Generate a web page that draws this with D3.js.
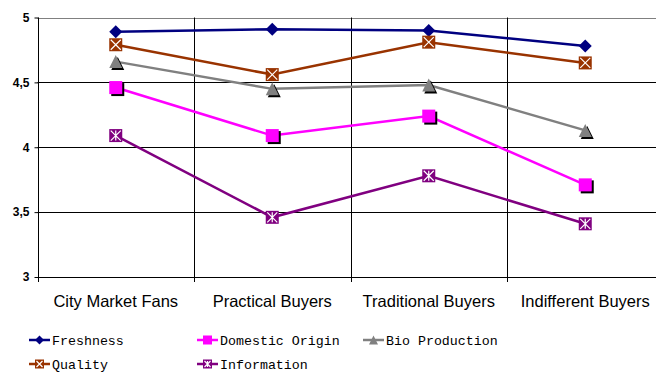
<!DOCTYPE html>
<html>
<head>
<meta charset="utf-8">
<script src="https://cdn.jsdelivr.net/npm/d3@7"></script>
<style>
  body { margin: 0; background: #fff; }
  svg { display: block; }
</style>
</head>
<body>
<div id="chart"></div>
<script>
const categories = ['City Market Fans', 'Practical Buyers', 'Traditional Buyers', 'Indifferent Buyers'];
const yTicks = [3, 3.5, 4, 4.5, 5];

const freshness = [4.89, 4.91, 4.90, 4.78];
const quality = [4.79, 4.56, 4.81, 4.65];
const bioProduction = [4.66, 4.45, 4.48, 4.13];
const domesticOrigin = [4.46, 4.09, 4.24, 3.71];
const information = [4.09, 3.46, 3.78, 3.41];

const series = [
  { name: 'Freshness', values: freshness, color: '#000080', marker: 'diamond' },
  { name: 'Quality', values: quality, color: '#993300', marker: 'xsquare' },
  { name: 'Bio Production', values: bioProduction, color: '#808080', marker: 'triangle' },
  { name: 'Domestic Origin', values: domesticOrigin, color: '#ff00ff', marker: 'square' },
  { name: 'Information', values: information, color: '#800080', marker: 'starsquare' }
];

const width = 656, height = 374;
const plot = { left: 37.5, top: 17.5, right: 663.5, bottom: 277 };

const svg = d3.select('#chart')
  .append('svg')
  .attr('width', width)
  .attr('height', height);

const x = d3.scaleBand()
  .domain(categories)
  .range([plot.left, plot.right]);

const y = d3.scaleLinear()
  .domain([3, 5])
  .range([plot.bottom, plot.top]);

// horizontal gridlines
svg.append('g')
  .selectAll('line')
  .data(yTicks)
  .join('line')
  .attr('x1', plot.left)
  .attr('x2', plot.right)
  .attr('y1', d => Math.round(y(d)) + 0.5)
  .attr('y2', d => Math.round(y(d)) + 0.5)
  .attr('stroke', d => d === 5 ? '#808080' : '#000')
  .attr('stroke-width', 1);

// vertical category separators
svg.append('g')
  .selectAll('line')
  .data(categories.slice(1))
  .join('line')
  .attr('x1', d => Math.round(x(d)) + 0.5)
  .attr('x2', d => Math.round(x(d)) + 0.5)
  .attr('y1', plot.top)
  .attr('y2', plot.bottom + 5)
  .attr('stroke', '#000')
  .attr('stroke-width', 1);

// y axis
const yAxis = svg.append('g')
  .attr('transform', `translate(${Math.round(plot.left) + 0.5},0)`)
  .call(d3.axisLeft(y)
    .tickValues(yTicks)
    .tickSize(4)
    .tickFormat(d => String(d).replace('.', ',')));
yAxis.select('.domain').attr('stroke', '#000').attr('d', `M0,${plot.top}V${plot.bottom + 5}`);
yAxis.selectAll('.tick line').attr('stroke', '#000');
yAxis.selectAll('.tick text')
  .attr('x', -9)
  .attr('font-family', 'Liberation Sans, Arial, sans-serif')
  .attr('font-size', 12)
  .attr('font-weight', 'bold')
  .attr('fill', '#000');

// x axis labels
svg.append('g')
  .selectAll('text')
  .data(categories)
  .join('text')
  .attr('x', d => x(d) + x.bandwidth() / 2)
  .attr('y', 307)
  .attr('text-anchor', 'middle')
  .attr('font-family', 'Liberation Sans, Arial, sans-serif')
  .attr('font-size', 16.5)
  .attr('fill', '#000')
  .text(d => d);

function drawMarker(g, type, color, size) {
  const h = size / 2;
  if (type === 'diamond') {
    g.append('path')
      .attr('d', `M0,${-h}L${h},0L0,${h}L${-h},0Z`)
      .attr('fill', color);
  } else if (type === 'triangle') {
    g.append('path')
      .attr('d', `M2,${-h + 2}L${h + 2},${h + 2}L${-h + 2},${h + 2}Z`)
      .attr('fill', '#000');
    g.append('path')
      .attr('d', `M0,${-h}L${h},${h}L${-h},${h}Z`)
      .attr('fill', color);
  } else if (type === 'square') {
    g.append('rect')
      .attr('x', -h + 2).attr('y', -h + 2)
      .attr('width', size).attr('height', size)
      .attr('fill', '#000');
    g.append('rect')
      .attr('x', -h).attr('y', -h)
      .attr('width', size).attr('height', size)
      .attr('fill', color);
  } else {
    g.append('rect')
      .attr('x', -h).attr('y', -h)
      .attr('width', size).attr('height', size)
      .attr('fill', color);
    const k = h - 1.5;
    g.append('path')
      .attr('d', `M${-k},${-k}L${k},${k}M${k},${-k}L${-k},${k}` + (type === 'starsquare' ? `M0,${-k}V${k}` : ''))
      .attr('stroke', '#fff')
      .attr('stroke-width', 1.2);
  }
}

const line = d3.line()
  .x((d, i) => x(categories[i]) + x.bandwidth() / 2)
  .y(d => y(d));

const seriesG = svg.append('g');
series.forEach(s => {
  seriesG.append('path')
    .datum(s.values)
    .attr('d', line)
    .attr('fill', 'none')
    .attr('stroke', s.color)
    .attr('stroke-width', 2.5);
});
series.forEach(s => {
  s.values.forEach((v, i) => {
    const g = seriesG.append('g')
      .attr('transform', `translate(${x(categories[i]) + x.bandwidth() / 2},${y(v)})`);
    drawMarker(g, s.marker, s.color, s.marker === 'diamond' ? 13 : 13);
  });
});

// legend
const legendItems = [
  { s: series[0], lx: 29, ly: 340 },
  { s: series[3], lx: 197, ly: 340 },
  { s: series[2], lx: 363, ly: 340 },
  { s: series[1], lx: 29, ly: 364 },
  { s: series[4], lx: 197, ly: 364 }
];
const legend = svg.append('g');
legendItems.forEach(it => {
  const g = legend.append('g').attr('transform', `translate(${it.lx},${it.ly})`);
  g.append('line')
    .attr('x1', 0).attr('x2', 21)
    .attr('y1', 0).attr('y2', 0)
    .attr('stroke', it.s.color)
    .attr('stroke-width', 2.5);
  const m = g.append('g').attr('transform', 'translate(10.5,0)');
  if (it.s.marker === 'triangle' || it.s.marker === 'square') {
    const h = 4.5;
    if (it.s.marker === 'triangle') {
      m.append('path').attr('d', `M0,${-h}L${h},${h}L${-h},${h}Z`).attr('fill', it.s.color);
    } else {
      m.append('rect').attr('x', -h).attr('y', -h).attr('width', 2 * h).attr('height', 2 * h).attr('fill', it.s.color);
    }
  } else {
    drawMarker(m, it.s.marker, it.s.color, 9);
  }
  g.append('text')
    .attr('x', 23)
    .attr('y', 5)
    .attr('font-family', 'Liberation Mono, Courier New, monospace')
    .attr('font-size', 13.3)
    .attr('fill', '#000')
    .text(it.s.name);
});
</script>
</body>
</html>
